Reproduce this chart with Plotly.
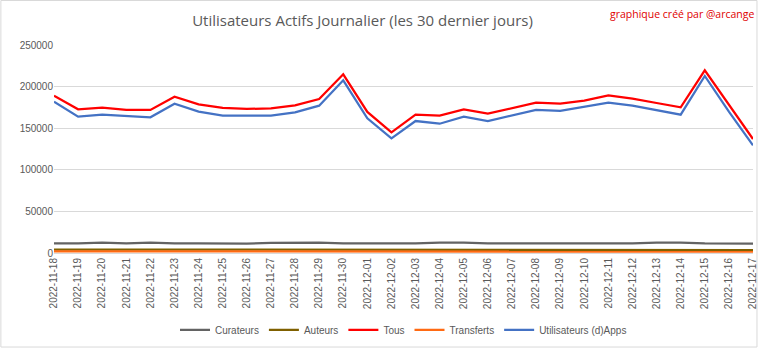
import plotly.graph_objects as go
import pandas as pd

dates = [d.strftime("%Y-%m-%d") for d in pd.date_range("2022-11-18", "2022-12-17")]

curateurs = [11500, 11500, 12500, 11500, 12500, 11500, 11500, 11500, 11200, 12300, 12500, 12500, 11500, 11500,
             11500, 11500, 12500, 12500, 11500, 11500, 11500, 11500, 11200, 11000, 11500, 12500, 12500, 11500,
             11500, 11300]
auteurs = [4200, 4000, 3500, 4000, 4000, 4000, 4000, 4000, 3600, 3500, 4000, 4000, 4000, 4000,
           4000, 3800, 3600, 4000, 4000, 4000, 4000, 4000, 3200, 3800, 4000, 4000, 4000, 4000,
           4000, 3500]
tous = [189000, 172700, 174700, 171900, 171900, 187900, 178700, 174300, 173100, 173900, 177500, 185100,
        214800, 169500, 145000, 166300, 165100, 172700, 167500, 174300, 180700, 179500, 183100, 189500,
        185500, 180300, 175100, 219600, 177900, 137000]
transferts = [2000, 2000, 1800, 2000, 2000, 2000, 2000, 2000, 1800, 1800, 2000, 2000, 2000, 2000,
              2000, 2000, 1800, 2000, 2000, 2000, 2000, 2000, 1700, 1800, 2000, 2000, 2000, 2000,
              2000, 1600]
dapps = [181900, 163900, 166300, 164300, 163100, 179500, 169900, 165100, 165100, 165100, 169100, 177100,
         207600, 161900, 137800, 158600, 155400, 163900, 158600, 165100, 171900, 170700, 175500, 180700,
         177100, 171900, 166300, 212800, 169900, 129400]

series = [
    ("Curateurs", curateurs, "#636363"),
    ("Auteurs", auteurs, "#7F6000"),
    ("Tous", tous, "#FF0000"),
    ("Transferts", transferts, "#FF6A13"),
    ("Utilisateurs (d)Apps", dapps, "#4472C4"),
]

FONT = "Liberation Sans, Arial, sans-serif"

fig = go.Figure()
for name, vals, col in series:
    fig.add_trace(go.Scatter(x=dates, y=vals, name=name, mode="lines",
                             line=dict(color=col, width=2.25)))

fig.update_layout(
    width=768, height=349,
    margin=dict(l=54, r=15, t=45, b=96, autoexpand=False),
    paper_bgcolor="white", plot_bgcolor="white",
    font=dict(family=FONT, color="#595959", size=10),
    title=dict(text="Utilisateurs Actifs Journalier (les 30 dernier jours)",
               x=0.472, xanchor="center", y=0.94, yanchor="middle",
               font=dict(size=15, color="#595959", family="Open Sans, sans-serif")),
    showlegend=True,
    legend=dict(orientation="h", x=0.5, xanchor="center", y=0.055, yanchor="middle",
                yref="container", font=dict(size=10, color="#595959", family=FONT),
                traceorder="normal", itemwidth=30),
    annotations=[dict(text="graphique créé par @arcange", xref="paper", yref="paper",
                      x=1.005, y=1.15, xanchor="right", yanchor="middle", showarrow=False,
                      font=dict(size=10.5, color="#E00000", family="Open Sans, sans-serif"))],
)
fig.update_xaxes(type="category", tickangle=-90, showgrid=False, showline=True,
                 linecolor="#d9d9d9", linewidth=1, ticks="", automargin=False,
                 tickfont=dict(size=10, color="#595959", family=FONT))
fig.update_yaxes(range=[0, 250000], dtick=50000, showgrid=True, gridcolor="#d9d9d9",
                 zeroline=False, tickformat="d", ticks="", automargin=False,
                 tickfont=dict(size=10, color="#595959", family=FONT))
fig.add_shape(type="rect", xref="paper", yref="paper", x0=-0.076, x1=1.0057, y0=-0.452, y1=1.214,
              line=dict(color="#d9d9d9", width=1), layer="below")

fig.write_html("out.html")
